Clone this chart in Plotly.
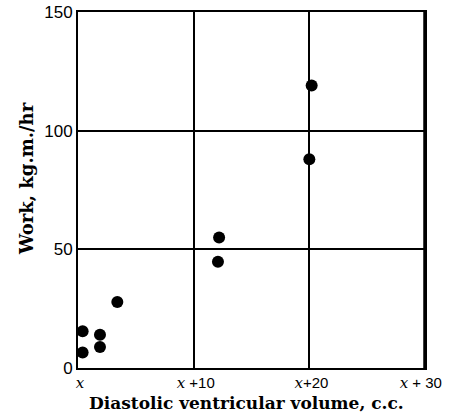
import plotly.graph_objects as go

# Data (x offset above baseline volume x, work in kg.m./hr)
volume_offset = [0.4, 0.4, 1.9, 1.9, 3.4, 12.2, 12.1, 20.2, 20.0]
work = [15.5, 6.5, 14.0, 8.8, 27.8, 55.0, 44.8, 119.0, 88.0]

x_tick_vals = [0, 10, 20, 30]
x_tick_text = ["x", "x +10", "x+20", "x + 30"]
y_tick_vals = [0, 50, 100, 150]
y_tick_text = ["0", "50", "100", "150"]

X_SPAN = '<span style="font-family:\'DejaVu Serif\';font-style:italic">x</span>'

def fmt_x(label, i, n):
    rest = label[1:].replace(" ", "&nbsp;")
    text = X_SPAN + rest
    # small horizontal bias as in the reference layout
    if i < n - 1:
        text = "&nbsp;" + text
    else:
        text = text + "&nbsp;&nbsp;"
    return text

fig = go.Figure()
fig.add_trace(go.Scatter(
    x=volume_offset, y=work, mode="markers",
    marker=dict(color="black", size=12, symbol="circle"),
    showlegend=False, hoverinfo="skip"))

fig.update_layout(
    width=456, height=416,
    margin=dict(l=78, r=31, t=12, b=48, autoexpand=False),
    paper_bgcolor="white", plot_bgcolor="white",
    font=dict(family="Liberation Sans, Arial", color="black", size=17),
)
fig.update_xaxes(
    range=[0, 30], tickvals=x_tick_vals,
    ticktext=[fmt_x(t, i, len(x_tick_text)) for i, t in enumerate(x_tick_text)],
    showgrid=True, gridcolor="black", gridwidth=1.5,
    showline=True, linecolor="black", linewidth=2, mirror=True,
    ticks="", zeroline=False, tickfont=dict(size=15), automargin=False,
    ticklabeloverflow="allow",
)
fig.update_yaxes(
    range=[0, 150], tickvals=y_tick_vals, ticktext=y_tick_text,
    showgrid=True, gridcolor="black", gridwidth=1.5,
    showline=True, linecolor="black", linewidth=2, mirror=True,
    ticks="", zeroline=False, tickfont=dict(size=17), automargin=False,
    ticklabeloverflow="allow",
)
# thicker right frame edge as in the reference
fig.add_shape(type="line", xref="paper", yref="paper", x0=1, x1=1, y0=0, y1=1,
              line=dict(color="black", width=3.5))
fig.add_annotation(
    text="<b>Diastolic ventricular volume, c.c.</b>",
    xref="paper", yref="paper", x=0.487, y=-0.131, yanchor="bottom", xanchor="center",
    showarrow=False, font=dict(family="DejaVu Serif", size=17, color="black"))
fig.add_annotation(
    text="<b>Work, kg.m./hr</b>",
    xref="paper", yref="paper", x=-0.147, y=0.534, xanchor="center", yanchor="middle",
    textangle=-90, showarrow=False,
    font=dict(family="DejaVu Serif", size=18, color="black"))

# the page body has a default 8px margin; remove it so the figure fills the window
fig.write_html("out.html", config={"displayModeBar": False},
               post_script="document.body.style.margin='0';")
